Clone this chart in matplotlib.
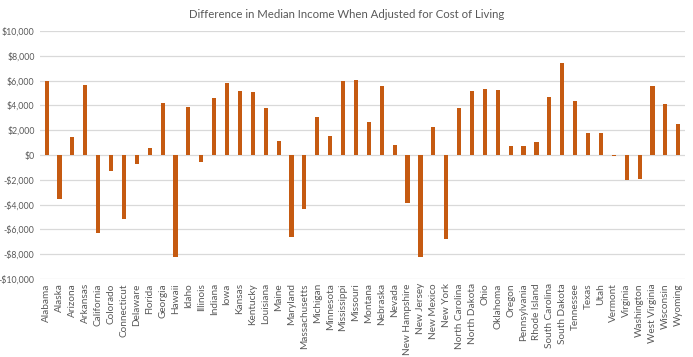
import matplotlib
matplotlib.use("Agg")
import matplotlib.pyplot as plt
from matplotlib.ticker import FuncFormatter

states = ["Alabama", "Alaska", "Arizona", "Arkansas", "California", "Colorado",
          "Connecticut", "Delaware", "Florida", "Georgia", "Hawaii", "Idaho",
          "Illinois", "Indiana", "Iowa", "Kansas", "Kentucky", "Louisiana",
          "Maine", "Maryland", "Massachusetts", "Michigan", "Minnesota",
          "Mississippi", "Missouri", "Montana", "Nebraska", "Nevada",
          "New Hampshire", "New Jersey", "New Mexico", "New York",
          "North Carolina", "North Dakota", "Ohio", "Oklahoma", "Oregon",
          "Pennsylvania", "Rhode Island", "South Carolina", "South Dakota",
          "Tennessee", "Texas", "Utah", "Vermont", "Virginia", "Washington",
          "West Virginia", "Wisconsin", "Wyoming"]

difference = [6000, -3550, 1480, 5650, -6300, -1290,
              -5200, -700, 560, 4200, -8250, 3870,
              -540, 4570, 5830, 5160, 5080, 3790,
              1150, -6590, -4330, 3040, 1530,
              5940, 6070, 2660, 5590, 830,
              -3900, -8200, 2260, -6770,
              3760, 5130, 5300, 5210, 700,
              730, 1080, 4650, 7390,
              4350, 1770, 1770, -100, -1990, -1960,
              5540, 4140, 2500]

yticks = list(range(-10000, 10001, 2000))

text_color = "#595959"
font = ["Lato", "DejaVu Sans"]

fig = plt.figure(figsize=(6.93, 3.57), dpi=100)
ax = fig.add_axes([0.058, 0.2185, 0.930, 0.6945])

x = list(range(len(states)))
ax.bar(x, difference, width=0.32, color="#C55A11", zorder=3)

ax.set_ylim(-10000, 10000)
ax.set_xlim(-0.5, len(states) - 0.5)
ax.set_yticks(yticks)


def fmt(v, pos):
    v = int(round(v))
    if v < 0:
        return "-${:,}".format(-v)
    return "${:,}".format(v)


ax.yaxis.set_major_formatter(FuncFormatter(fmt))
ax.grid(axis="y", color="#D9D9D9", linewidth=0.9, zorder=0)
for s in ax.spines.values():
    s.set_visible(False)
ax.tick_params(axis="both", length=0, colors=text_color)
ax.set_xticks(x)
ax.set_xticklabels(states, rotation=90, fontsize=7.2, family=font, color=text_color)
for lbl in ax.get_yticklabels():
    lbl.set_fontsize(6.3)
    lbl.set_family(font)
    lbl.set_color(text_color)
ax.tick_params(axis="y", pad=4)
ax.tick_params(axis="x", pad=3)

fig.text(0.5, 0.96, "Difference in Median Income When Adjusted for Cost of Living",
         ha="center", va="center", fontsize=8.2, family=font, color=text_color)

fig.savefig("out.png", dpi=100)
